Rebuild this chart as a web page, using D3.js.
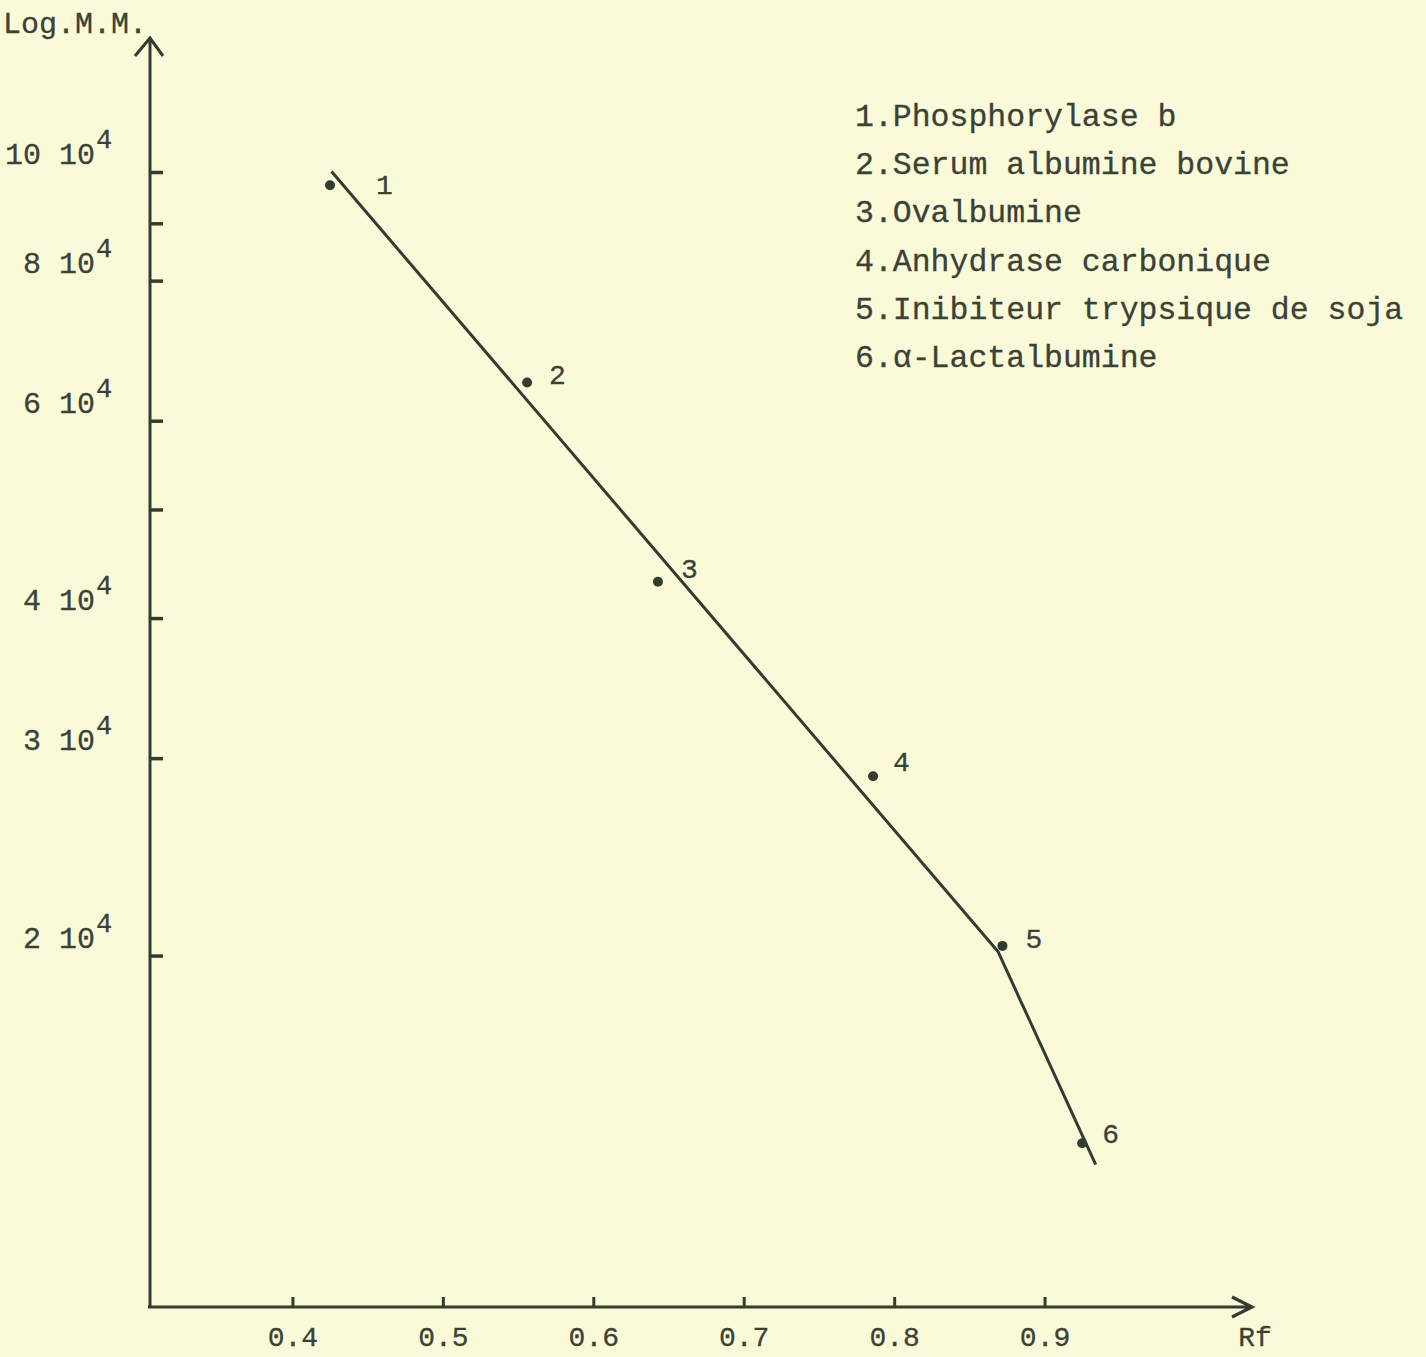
<!DOCTYPE html>
<html>
<head>
<meta charset="utf-8">
<script src="https://cdn.jsdelivr.net/npm/d3@7"></script>
<style>
  html, body { margin: 0; padding: 0; background: #fafad9; }
  svg { display: block; }
  text { font-family: "Liberation Mono", "Courier New", monospace; fill: #3a4237; stroke: #3a4237; stroke-width: 0.3px; }
</style>
</head>
<body>
<svg id="chart" width="1426" height="1357"></svg>
<script>
// Calibration of protein molecular mass vs. relative mobility (Rf)
const proteins = [
  "Phosphorylase b",
  "Serum albumine bovine",
  "Ovalbumine",
  "Anhydrase carbonique",
  "Inibiteur trypsique de soja",
  "\u03b1-Lactalbumine"
];
const rfValues   = [0.425, 0.556, 0.643, 0.786, 0.872, 0.925];
const massValues = [97300, 64900, 43100, 28900, 20400, 13600];

// Hand-fitted calibration line (Rf, molecular mass)
const fitRf   = [0.426, 0.869, 0.934];
const fitMass = [100100, 20170, 13020];

// Axis ticks
const xTicks = [0.4, 0.5, 0.6, 0.7, 0.8, 0.9];
const yTickMarks = [20000, 30000, 40000, 50000, 60000, 80000, 90000, 100000];
const yTickLabels = [2, 3, 4, 6, 8, 10];   // multiples of 10^4

const ink = "#343c32";
const svg = d3.select("#chart");

const x = d3.scaleLinear().domain([0.3, 1.0]).range([142, 1195]);
const y = d3.scaleLog().domain([1e4, 1e5]).range([1293, 172]);

const originX = 150, originY = 1307;
const yAxisTop = 38, xAxisEnd = 1252;

// X axis: ticks pointing up, labels below
const xAxis = d3.axisBottom(x)
  .tickValues(xTicks)
  .tickSize(-10)
  .tickPadding(19)
  .tickFormat(d3.format(".1f"));
const gx = svg.append("g").attr("transform", `translate(0,${originY})`).call(xAxis);
gx.select(".domain").remove();
gx.selectAll(".tick line").attr("stroke", ink).attr("stroke-width", 3);
gx.selectAll(".tick text")
  .attr("fill", "#3a4237")
  .style("font-size", "28px")
  .style("font-family", "'Liberation Mono', 'Courier New', monospace");

// Y axis: short ticks on the right side of the line
const yAxis = d3.axisRight(y)
  .tickValues(yTickMarks)
  .tickSize(13)
  .tickFormat("");
const gy = svg.append("g").attr("transform", `translate(${originX},0)`).call(yAxis);
gy.select(".domain").remove();
gy.selectAll(".tick line").attr("stroke", ink).attr("stroke-width", 3.5);

// Axis lines with open arrowheads
svg.append("path")
  .attr("d", `M${originX},${originY} L${originX},${yAxisTop} M${originX - 15},${yAxisTop + 18} L${originX},${yAxisTop} L${originX + 13},${yAxisTop + 18}`)
  .attr("fill", "none").attr("stroke", ink).attr("stroke-width", 3)
  .attr("stroke-linejoin", "miter");
svg.append("path")
  .attr("d", `M${originX - 2},${originY} L${xAxisEnd},${originY} M${xAxisEnd - 20},${originY - 10} L${xAxisEnd},${originY} L${xAxisEnd - 20},${originY + 10}`)
  .attr("fill", "none").attr("stroke", ink).attr("stroke-width", 3.2);

// Y tick labels: "n 10" with superscript 4
const yl = svg.append("g").selectAll("g").data(yTickLabels).join("g")
  .attr("transform", d => `translate(0,${y(d * 1e4) - 8})`);
yl.append("text")
  .attr("x", 95).attr("text-anchor", "end")
  .style("font-size", "30px")
  .text(d => `${d} 10`);
yl.append("text")
  .attr("x", 96).attr("dy", -16)
  .style("font-size", "27px")
  .text("4");

// Axis titles
svg.append("text").attr("x", 147).attr("y", 33).attr("text-anchor", "end")
  .style("font-size", "30px").text("Log.M.M.");
svg.append("text").attr("x", x(1.0) + 60).attr("y", 1346).attr("text-anchor", "middle")
  .style("font-size", "28px").text("Rf");

// Calibration line
const fitPts = fitRf.map((r, i) => [x(r), y(fitMass[i])]);
svg.append("path")
  .attr("d", d3.line()(fitPts))
  .attr("fill", "none").attr("stroke", ink).attr("stroke-width", 3)
  .attr("stroke-linejoin", "round");

// Standard proteins
const pts = rfValues.map((r, i) => ({ rf: r, mm: massValues[i], n: i + 1 }));
svg.append("g").selectAll("circle").data(pts).join("circle")
  .attr("cx", d => x(d.rf)).attr("cy", d => y(d.mm))
  .attr("r", 5).attr("fill", ink);

const labelNudge = [[46, 9], [22, 2], [23, -4], [20, -5], [23, 2], [20, 0]];
svg.append("g").selectAll("text").data(pts).join("text")
  .attr("x", (d, i) => x(d.rf) + labelNudge[i][0])
  .attr("y", (d, i) => y(d.mm) + labelNudge[i][1])
  .style("font-size", "28px")
  .text(d => d.n);

// Legend
svg.append("g").selectAll("text").data(proteins).join("text")
  .attr("x", 855).attr("y", (d, i) => 126 + i * 48.2)
  .style("font-size", "31.5px")
  .text((d, i) => `${i + 1}.${d}`);
</script>
</body>
</html>
